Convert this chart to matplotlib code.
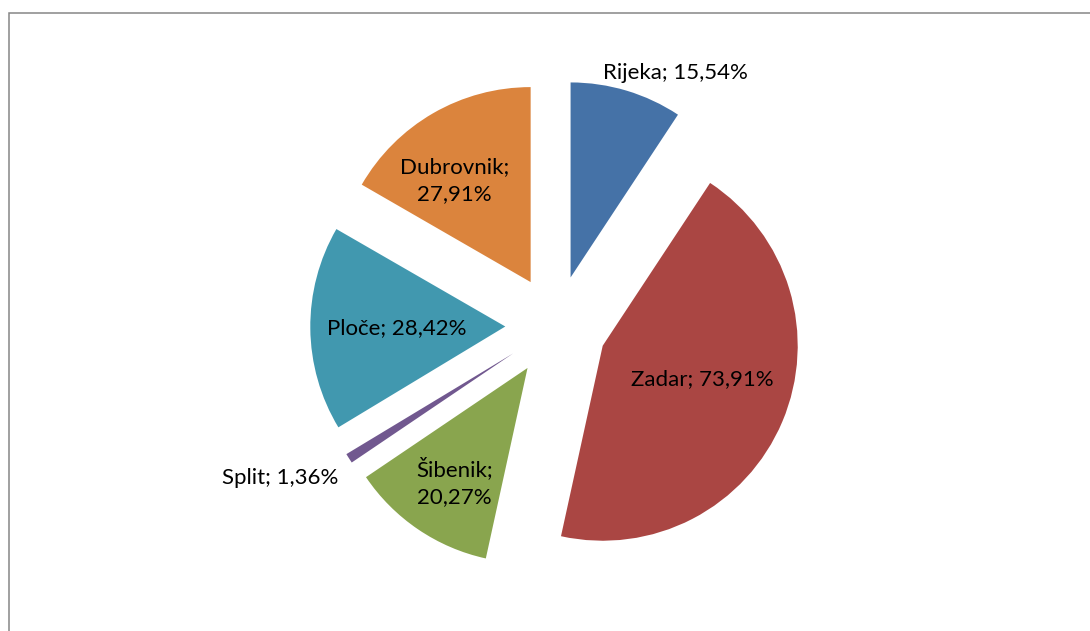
import matplotlib.pyplot as plt
from matplotlib.patches import Rectangle

luke = ['Rijeka', 'Zadar', 'Šibenik', 'Split', 'Ploče', 'Dubrovnik']
postoci = [15.54, 73.91, 20.27, 1.36, 28.42, 27.91]
boje = ['#4572A7', '#AA4643', '#89A54E', '#71588F', '#4198AF', '#DB843D']

# label text layout (data units, radius = 1)
oznake = ['Rijeka; 15,54%', 'Zadar; 73,91%', 'Šibenik;\n20,27%', 'Split; 1,36%',
          'Ploče; 28,42%', 'Dubrovnik;\n27,91%']
pozicije = [(0.61, 1.30), (0.75, -0.27), (-0.52, -0.80), (-1.415, -0.78),
            (-0.815, -0.01), (-0.52, 0.745)]

plt.rcParams['font.family'] = ['Lato', 'DejaVu Sans']

fig = plt.figure(figsize=(10.9, 6.31), dpi=100)
# chart area frame (continues past right and bottom edge)
fig.patches.append(Rectangle((8.5 / 1090, -0.1), 1.2, (631 - 12.5) / 631 + 0.1,
                             transform=fig.transFigure, fill=False,
                             edgecolor='#868686', linewidth=1.1))

ax = fig.add_axes([(556 - 300) / 1090, (305 - 300) / 631, 600 / 1090, 600 / 631])
ax.pie(postoci, colors=boje, startangle=90, counterclock=False, radius=1,
       explode=[0.26] * len(postoci), wedgeprops=dict(linewidth=0))
for txt, (x, y) in zip(oznake, pozicije):
    ax.text(x, y, txt, ha='center', va='center', fontsize=16, linespacing=1.45)
lim = 300 / 195
ax.set_xlim(-lim, lim)
ax.set_ylim(-lim, lim)
ax.set_aspect('equal')
ax.axis('off')

fig.savefig('out.png', dpi=100)
